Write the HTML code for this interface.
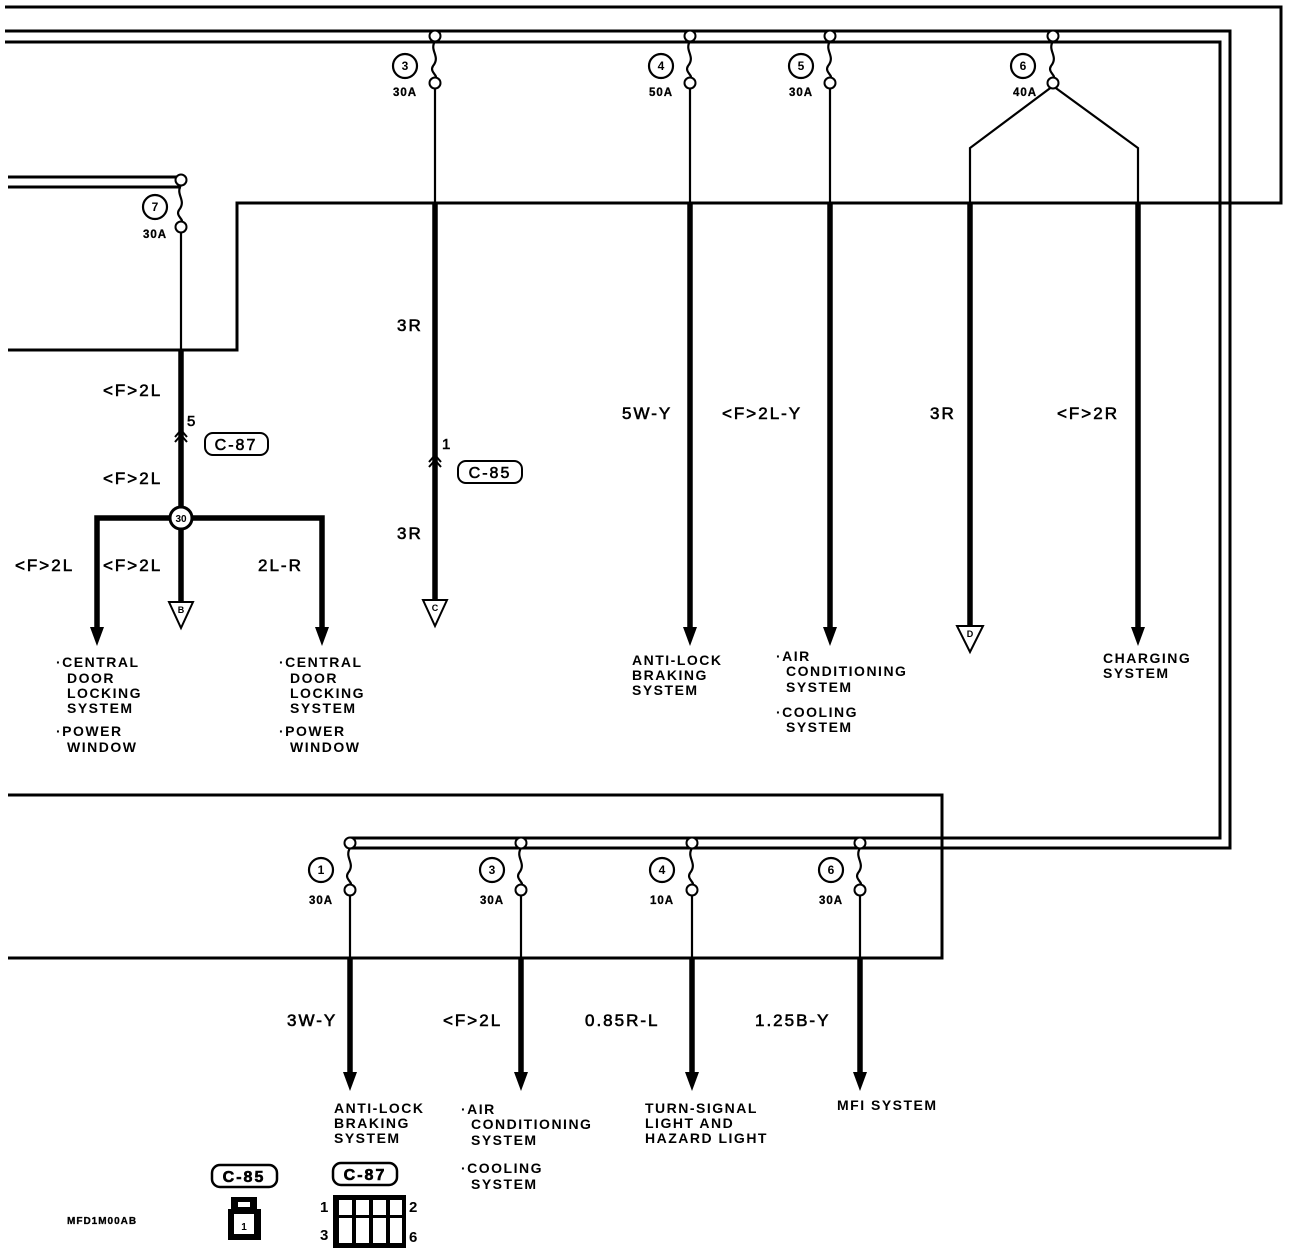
<!DOCTYPE html>
<html><head><meta charset="utf-8"><style>
html,body{margin:0;padding:0;background:#fff;}
svg{display:block;}
text{font-family:"Liberation Sans",sans-serif;fill:#000;}
.b{font-weight:bold;font-size:14px;letter-spacing:1.5px;}
.w{font-size:17px;letter-spacing:2px;stroke:#000;stroke-width:0.6px;}
.a{font-weight:bold;font-size:11.5px;letter-spacing:1px;stroke:#000;stroke-width:0.3px;}
.n{font-weight:bold;font-size:12px;}
</style></head><body>
<svg width="1296" height="1256" viewBox="0 0 1296 1256" xmlns="http://www.w3.org/2000/svg">
<defs>
<g id="fuse">
 <circle cx="0" cy="0" r="5.5" fill="#fff" stroke="#000" stroke-width="2"/>
 <path d="M0,5 C-6,15 6,20 -2,30 C-6,36 4,40 0,42" fill="none" stroke="#000" stroke-width="2.2"/>
 <circle cx="0" cy="47" r="5.5" fill="#fff" stroke="#000" stroke-width="2"/>
</g>
<g id="arr"><path d="M-7,-16 L7,-16 L0,3 Z" fill="#000"/></g>
</defs>
<g fill="none" stroke="#000" stroke-width="3">
<polyline points="5,7 1281,7 1281,203 237,203 237,350 8,350"/>
<polyline points="5,31 1230,31 1230,848 350,848"/>
<polyline points="5,42 1220,42 1220,838 350,838"/>
<polyline points="8,177 181,177"/>
<polyline points="8,187 181,187"/>
<polyline points="8,795 942,795 942,958 8,958"/>
</g>
<g stroke="#000" stroke-width="2.2" fill="none">
<line x1="181" y1="230" x2="181" y2="350"/>
<line x1="435" y1="86" x2="435" y2="203"/>
<line x1="690" y1="86" x2="690" y2="203"/>
<line x1="830" y1="86" x2="830" y2="203"/>
<polyline points="1053,86 970,148 970,203"/>
<polyline points="1053,86 1138,148 1138,203"/>
<line x1="350" y1="891" x2="350" y2="958"/>
<line x1="521" y1="891" x2="521" y2="958"/>
<line x1="692" y1="891" x2="692" y2="958"/>
<line x1="860" y1="891" x2="860" y2="958"/>
</g>
<g stroke="#000" stroke-width="5.5" fill="none">
<line x1="181" y1="350" x2="181" y2="602"/>
<polyline points="97,628 97,518 322,518 322,628"/>
<line x1="435" y1="203" x2="435" y2="600"/>
<line x1="690" y1="203" x2="690" y2="628"/>
<line x1="830" y1="203" x2="830" y2="628"/>
<line x1="970" y1="203" x2="970" y2="627"/>
<line x1="1138" y1="203" x2="1138" y2="628"/>
<line x1="350" y1="958" x2="350" y2="1074"/>
<line x1="521" y1="958" x2="521" y2="1074"/>
<line x1="692" y1="958" x2="692" y2="1074"/>
<line x1="860" y1="958" x2="860" y2="1074"/>
</g>
<g>
<use href="#arr" x="97" y="643"/><use href="#arr" x="322" y="643"/>
<use href="#arr" x="690" y="643"/><use href="#arr" x="830" y="643"/>
<use href="#arr" x="1138" y="643"/>
<use href="#arr" x="350" y="1088"/><use href="#arr" x="521" y="1088"/>
<use href="#arr" x="692" y="1088"/><use href="#arr" x="860" y="1088"/>
</g>
<use href="#fuse" x="435" y="36"/><use href="#fuse" x="690" y="36"/>
<use href="#fuse" x="830" y="36"/><use href="#fuse" x="1053" y="36"/>
<use href="#fuse" x="181" y="180"/>
<use href="#fuse" x="350" y="843"/><use href="#fuse" x="521" y="843"/>
<use href="#fuse" x="692" y="843"/><use href="#fuse" x="860" y="843"/>
<g fill="#fff" stroke="#000" stroke-width="2.2">
<circle cx="405" cy="66" r="12"/><circle cx="661" cy="66" r="12"/>
<circle cx="801" cy="66" r="12"/><circle cx="1023" cy="66" r="12"/>
<circle cx="155" cy="207" r="12"/>
<circle cx="321" cy="870" r="12"/><circle cx="492" cy="870" r="12"/>
<circle cx="662" cy="870" r="12"/><circle cx="831" cy="870" r="12"/>
</g>
<g class="n" text-anchor="middle">
<text x="405" y="70">3</text><text x="661" y="70">4</text><text x="801" y="70">5</text><text x="1023" y="70">6</text>
<text x="155" y="211">7</text>
<text x="321" y="874">1</text><text x="492" y="874">3</text><text x="662" y="874">4</text><text x="831" y="874">6</text>
</g>
<g class="a" text-anchor="middle">
<text x="405" y="96">30A</text><text x="661" y="96">50A</text><text x="801" y="96">30A</text><text x="1025" y="96">40A</text>
<text x="155" y="238">30A</text>
<text x="321" y="904">30A</text><text x="492" y="904">30A</text><text x="662" y="904">10A</text><text x="831" y="904">30A</text>
</g>
<circle cx="181" cy="518" r="11" fill="#fff" stroke="#000" stroke-width="3"/>
<text x="181" y="522" class="n" text-anchor="middle" style="font-size:10px">30</text>
<g fill="#fff" stroke="#000" stroke-width="2">
<path d="M169,602 L193,602 L181,628 Z"/>
<path d="M423,600 L447,600 L435,626 Z"/>
<path d="M957,626 L983,626 L970,652 Z"/>
</g>
<g class="n" text-anchor="middle" style="font-size:9px">
<text x="181" y="613">B</text><text x="435" y="611">C</text><text x="970" y="637">D</text>
</g>
<g fill="none" stroke="#000" stroke-width="2">
<path d="M175,437 L181,430 L187,437 M175,442 L181,435 L187,442"/>
<path d="M429,462 L435,455 L441,462 M429,467 L435,460 L441,467"/>
<rect x="205" y="433" width="63" height="22" rx="8"/>
<rect x="458" y="461" width="64" height="22" rx="8"/>
</g>
<text x="187" y="426" class="w" style="font-size:15px">5</text>
<text x="442" y="449" class="w" style="font-size:15px">1</text>
<text x="236" y="450" class="w" text-anchor="middle" style="font-size:16px">C-87</text>
<text x="490" y="478" class="w" text-anchor="middle" style="font-size:16px">C-85</text>
<g class="w">
<text x="103" y="396">&lt;F&gt;2L</text>
<text x="103" y="484">&lt;F&gt;2L</text>
<text x="15" y="571">&lt;F&gt;2L</text>
<text x="103" y="571">&lt;F&gt;2L</text>
<text x="258" y="571">2L-R</text>
<text x="397" y="331">3R</text>
<text x="397" y="539">3R</text>
<text x="622" y="419">5W-Y</text>
<text x="722" y="419">&lt;F&gt;2L-Y</text>
<text x="930" y="419">3R</text>
<text x="1057" y="419">&lt;F&gt;2R</text>
<text x="287" y="1026">3W-Y</text>
<text x="443" y="1026">&lt;F&gt;2L</text>
<text x="585" y="1026">0.85R-L</text>
<text x="755" y="1026">1.25B-Y</text>
</g>
<g class="b">
<text x="56" y="667">·CENTRAL</text><text x="67" y="683">DOOR</text><text x="67" y="698">LOCKING</text><text x="67" y="713">SYSTEM</text>
<text x="56" y="736">·POWER</text><text x="67" y="752">WINDOW</text>
<text x="279" y="667">·CENTRAL</text><text x="290" y="683">DOOR</text><text x="290" y="698">LOCKING</text><text x="290" y="713">SYSTEM</text>
<text x="279" y="736">·POWER</text><text x="290" y="752">WINDOW</text>
<text x="632" y="665">ANTI-LOCK</text><text x="632" y="680">BRAKING</text><text x="632" y="695">SYSTEM</text>
<text x="776" y="661">·AIR</text><text x="786" y="676">CONDITIONING</text><text x="786" y="692">SYSTEM</text>
<text x="776" y="717">·COOLING</text><text x="786" y="732">SYSTEM</text>
<text x="1103" y="663">CHARGING</text><text x="1103" y="678">SYSTEM</text>
<text x="334" y="1113">ANTI-LOCK</text><text x="334" y="1128">BRAKING</text><text x="334" y="1143">SYSTEM</text>
<text x="461" y="1114">·AIR</text><text x="471" y="1129">CONDITIONING</text><text x="471" y="1145">SYSTEM</text>
<text x="461" y="1173">·COOLING</text><text x="471" y="1189">SYSTEM</text>
<text x="645" y="1113">TURN-SIGNAL</text><text x="645" y="1128">LIGHT AND</text><text x="645" y="1143">HAZARD LIGHT</text>
<text x="837" y="1110">MFI SYSTEM</text>
</g>
<g fill="none" stroke="#000" stroke-width="2.5">
<rect x="212" y="1165" width="65" height="22" rx="8"/>
<rect x="333" y="1163" width="64" height="22" rx="8"/>
</g>
<text x="244" y="1182" class="w" text-anchor="middle" style="font-size:16px;font-weight:bold">C-85</text>
<text x="365" y="1180" class="w" text-anchor="middle" style="font-size:16px;font-weight:bold">C-87</text>
<rect x="231" y="1197" width="26" height="14" fill="#000"/>
<rect x="238" y="1202" width="12" height="5" fill="#fff"/>
<rect x="228" y="1209" width="33" height="31" fill="#000"/>
<rect x="234" y="1214" width="20" height="20" fill="#fff"/>
<text x="244" y="1230" class="n" text-anchor="middle" style="font-size:10px">1</text>
<rect x="333" y="1195" width="73" height="53" fill="#000"/>
<g fill="#fff">
<rect x="339" y="1200" width="13" height="15"/><rect x="356" y="1200" width="13" height="15"/>
<rect x="373" y="1200" width="13" height="15"/><rect x="390" y="1200" width="12" height="15"/>
<rect x="339" y="1218" width="13" height="25"/><rect x="356" y="1218" width="13" height="25"/>
<rect x="373" y="1218" width="13" height="25"/><rect x="390" y="1218" width="12" height="25"/>
</g>
<g style="font-size:15px;font-weight:bold">
<text x="320" y="1212">1</text><text x="320" y="1240">3</text>
<text x="409" y="1212">2</text><text x="409" y="1242">6</text>
</g>
<text x="67" y="1224" class="a" style="font-size:10px">MFD1M00AB</text>
</svg>
</body></html>
